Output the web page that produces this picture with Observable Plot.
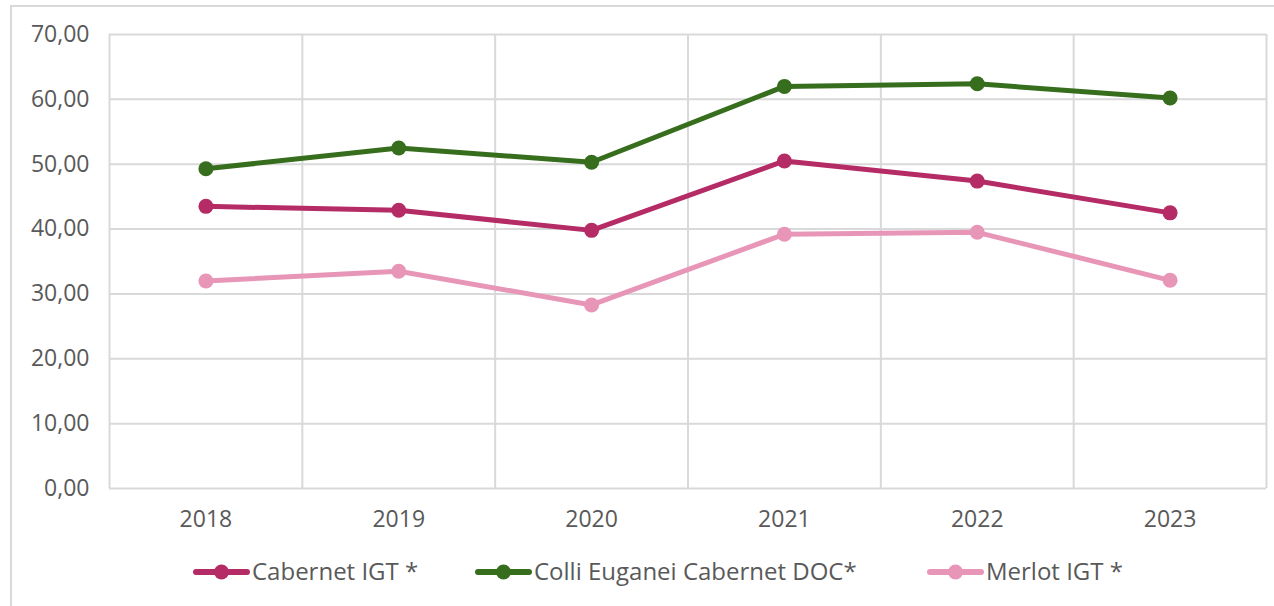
<!DOCTYPE html>
<html>
<head>
<meta charset="utf-8">
<script src="https://cdn.jsdelivr.net/npm/d3@7"></script>
<script src="https://cdn.jsdelivr.net/npm/@observablehq/plot@0.6"></script>
<style>
  html, body { margin: 0; padding: 0; background: #fff; }
  body { width: 1274px; height: 606px; overflow: hidden; position: relative; font-family: "Open Sans", sans-serif; }
  #border { position: absolute; left: 10px; top: 5px; width: 1280px; height: 620px; border-left: 2px solid #d9d9d9; border-top: 2px solid #d9d9d9; }
  #chart { position: absolute; left: 0; top: 0; }
  #legend { position: absolute; left: 0; top: 555px; width: 1274px; height: 30px; }
  .item { position: absolute; top: 0; display: flex; align-items: center; color: #595959; font-size: 24px; white-space: nowrap; }
  .item svg { margin-right: 2px; }
  .item span { position: relative; top: -1px; }
</style>
</head>
<body>
<div id="border"></div>
<div id="chart"></div>
<div id="legend"></div>
<script>
const years = [2018, 2019, 2020, 2021, 2022, 2023];
const seriesNames = ["Cabernet IGT *", "Colli Euganei Cabernet DOC*", "Merlot IGT *"];
const cabernetIGT = [43.5, 42.9, 39.8, 50.5, 47.4, 42.5];
const colliEuganei = [49.3, 52.5, 50.3, 62.0, 62.4, 60.2];
const merlotIGT = [32.0, 33.5, 28.3, 39.2, 39.5, 32.1];
const colors = ["#b52b65", "#376e1e", "#e896b8"];
const yTicks = [0, 10, 20, 30, 40, 50, 60, 70];
const legendX = [193, 475, 927];

const allValues = [cabernetIGT, colliEuganei, merlotIGT];
const data = [];
seriesNames.forEach((s, i) => years.forEach((y, j) => data.push({series: s, year: y, value: allValues[i][j]})));
const boundaries = [...years.map(y => y - 0.5), years[years.length - 1] + 0.5];
const fmt = d => d.toFixed(2).replace(".", ",");

const plot = Plot.plot({
  width: 1274,
  height: 545,
  marginLeft: 109,
  marginRight: 8,
  marginTop: 34,
  marginBottom: 57,
  style: { fontFamily: "Open Sans, sans-serif", fontSize: "23px", color: "#595959", background: "transparent" },
  x: { domain: [years[0] - 0.5, years[years.length - 1] + 0.5], ticks: years, tickFormat: d => String(d), tickSize: 0, tickPadding: 22, label: null },
  y: { domain: [0, 70], ticks: yTicks, tickFormat: fmt, tickSize: 0, tickPadding: 20, label: null },
  color: { domain: seriesNames, range: colors },
  marks: [
    Plot.ruleY(yTicks, { stroke: "#d9d9d9", strokeWidth: 2 }),
    Plot.ruleX(boundaries, { stroke: "#d9d9d9", strokeWidth: 2 }),
    Plot.line(data, { x: "year", y: "value", stroke: "series", strokeWidth: 5, z: "series" }),
    Plot.dot(data, { x: "year", y: "value", fill: "series", r: 7.5 })
  ]
});
document.getElementById("chart").appendChild(plot);

const legend = document.getElementById("legend");
seriesNames.forEach((s, i) => {
  const it = document.createElement("div");
  it.className = "item";
  it.style.left = legendX[i] + "px";
  it.innerHTML = `<svg width="57" height="30"><line x1="3" y1="15" x2="54" y2="15" stroke="${colors[i]}" stroke-width="6" stroke-linecap="round"/><circle cx="28.5" cy="15" r="7.5" fill="${colors[i]}"/></svg><span>${s}</span>`;
  legend.appendChild(it);
});
</script>
</body>
</html>
